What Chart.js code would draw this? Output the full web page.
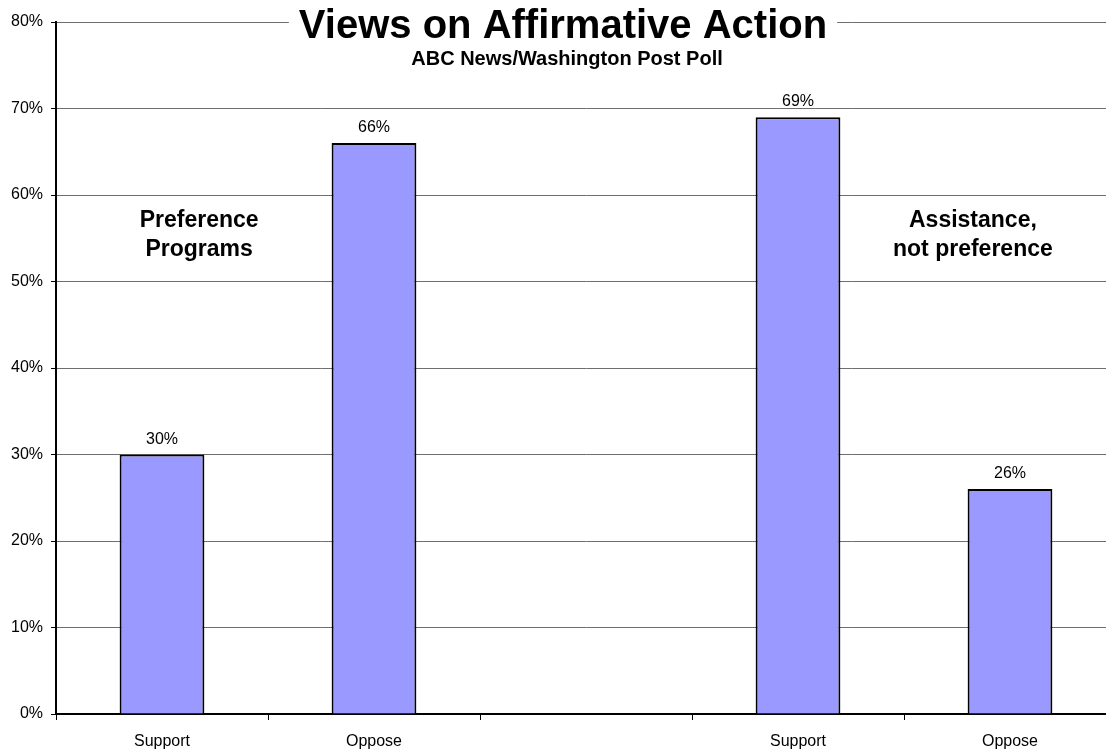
<!DOCTYPE html>
<html>
<head>
<meta charset="utf-8">
<style>
  html, body { margin: 0; padding: 0; background: #fff; overflow: hidden; }
  #wrap { width: 1130px; height: 751px; }
</style>
</head>
<body>
<div id="wrap"><canvas id="pollChart" width="1130" height="751"></canvas></div>

<script src="https://cdn.jsdelivr.net/npm/chart.js"></script>
<script>
// chart data
const categories = ["Support", "Oppose", "", "Support", "Oppose"];
const percentValues = [30, 66, null, 69, 26];
const yTicks = [0, 10, 20, 30, 40, 50, 60, 70, 80];
const chartTitle = "Views on Affirmative Action";
const chartSubtitle = "ABC News/Washington Post Poll";
const groupNotes = [
    ["Preference", "Programs"],
    ["Assistance,", "not preference"]
];

const FONT = "'Liberation Sans', Arial, sans-serif";

// value labels above each bar
const barLabels = {
    id: "barLabels",
    afterDatasetsDraw(chart) {
        let ctx = chart.ctx;
        let meta = chart.getDatasetMeta(0);
        ctx.save();
        ctx.font = "16px " + FONT;
        ctx.fillStyle = "#000";
        ctx.textAlign = "center";
        ctx.textBaseline = "alphabetic";
        meta.data.forEach(function(bar, i) {
            if (percentValues[i] == null) return;
            ctx.fillText(percentValues[i] + "%", bar.x, bar.y - 11);
        });
        ctx.restore();
    }
};

// title sitting on the top gridline + group notes
const titleAndNotes = {
    id: "titleAndNotes",
    afterDraw(chart) {
        let ctx = chart.ctx;
        let xs = chart.scales.x;
        let ys = chart.scales.y;
        ctx.save();

        ctx.font = "bold 40px " + FONT;
        let w = ctx.measureText(chartTitle).width;
        let cx = 563;
        ctx.fillStyle = "#fff";
        ctx.fillRect(cx - w / 2 - 10, ys.getPixelForValue(80) - 3, w + 20, 6);
        ctx.fillStyle = "#000";
        ctx.textAlign = "center";
        ctx.textBaseline = "alphabetic";
        ctx.fillText(chartTitle, cx, 38);

        ctx.font = "bold 20px " + FONT;
        ctx.fillText(chartSubtitle, 567, 65);

        // notes anchored to the category/value scales
        ctx.font = "bold 23px " + FONT;
        let anchors = [0.175, 3.825];
        groupNotes.forEach(function(lines, g) {
            let x = xs.getPixelForValue(anchors[g]);
            let y = ys.getPixelForValue(56.3);
            lines.forEach(function(line, k) {
                ctx.fillText(line, x, y + k * 29);
            });
        });
        ctx.restore();
    }
};

let ctx = document.getElementById("pollChart").getContext("2d");
let chartInstance = new Chart(ctx, {
    type: "bar",
    data: {
        labels: categories,
        datasets: [{
            data: percentValues,
            backgroundColor: "#9999FF",
            borderColor: "#000",
            borderWidth: 2,
            barPercentage: 0.4,
            categoryPercentage: 1.0
        }]
    },
    options: {
        responsive: false,
        animation: false,
        events: [],
        layout: { padding: { top: 22, right: 14, left: 0, bottom: 0 } },
        plugins: {
            legend: { display: false },
            title: { display: false },
            tooltip: { enabled: false }
        },
        scales: {
            x: {
                offset: true,
                grid: {
                    offset: true,
                    drawOnChartArea: false,
                    drawTicks: true,
                    tickLength: 6,
                    tickColor: "#000"
                },
                border: { color: "#000", width: 2 },
                ticks: {
                    color: "#000",
                    font: { family: FONT, size: 16 },
                    padding: 12,
                    maxRotation: 0,
                    autoSkip: false
                },
                afterFit(scale) { scale.height = 37; }
            },
            y: {
                min: 0,
                max: 80,
                afterBuildTicks(scale) {
                    scale.ticks = yTicks.map(function(v) { return { value: v }; });
                },
                grid: {
                    color: "#6e6e6e",
                    lineWidth: 1,
                    tickLength: 5,
                    tickColor: "#000"
                },
                border: { color: "#000", width: 2 },
                ticks: {
                    color: "#000",
                    font: { family: FONT, size: 16 },
                    padding: 8,
                    callback: function(v) { return v + "%"; }
                },
                afterFit(scale) { scale.width = 56; }
            }
        }
    },
    plugins: [barLabels, titleAndNotes]
});
</script>
</body>
</html>
